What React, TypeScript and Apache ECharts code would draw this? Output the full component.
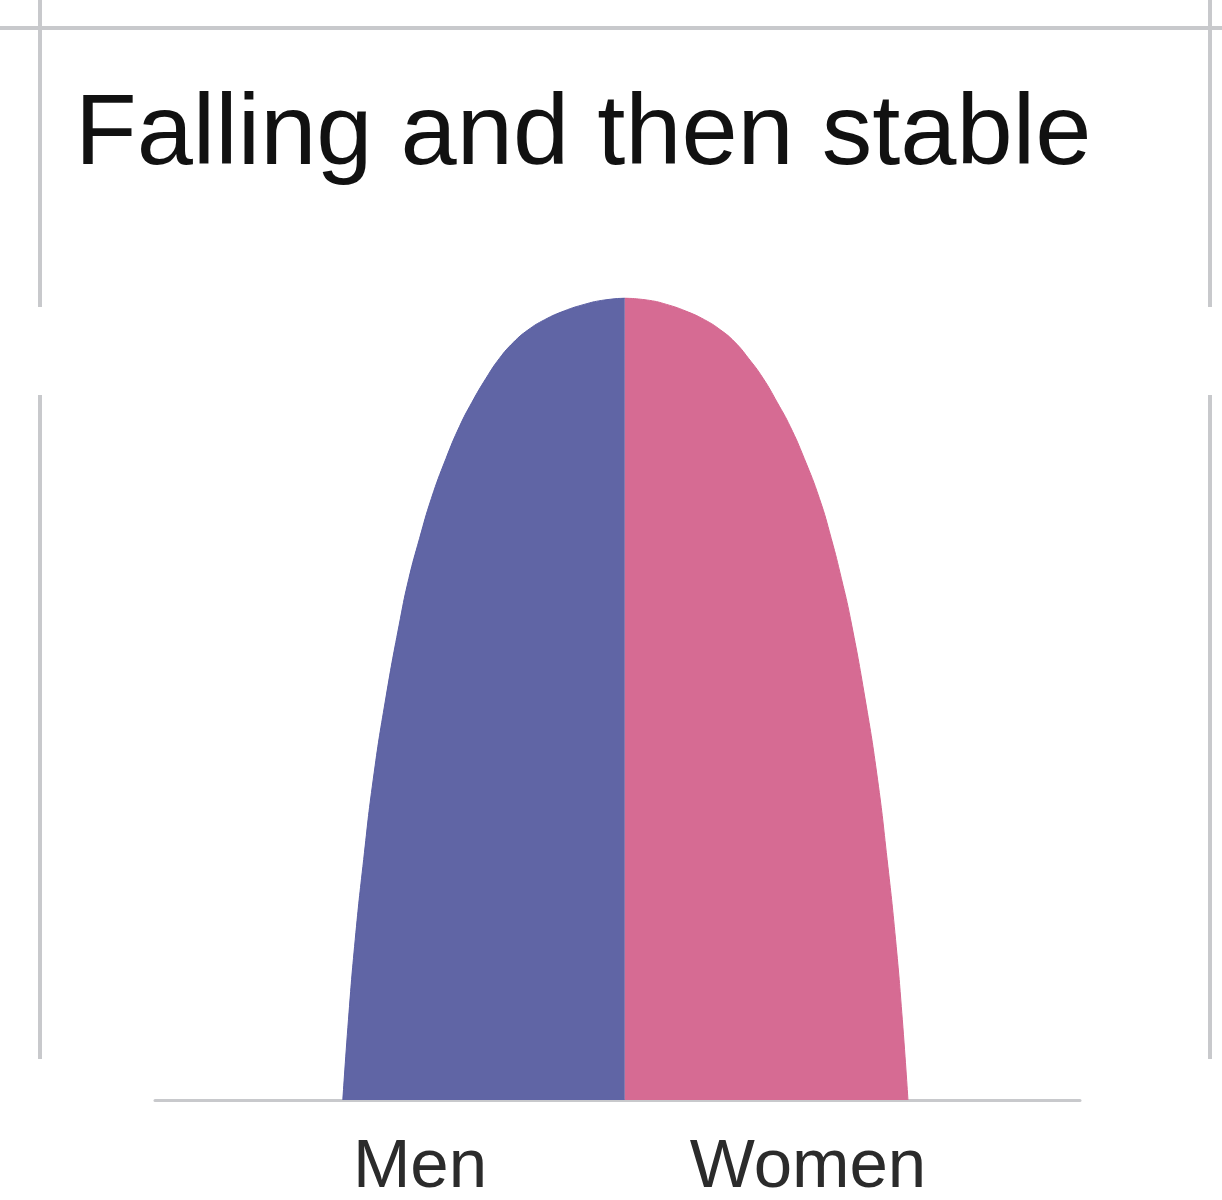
import React, { useEffect, useRef } from "react";
import * as echarts from "echarts";

// Age (years, bottom → top of the pyramid)
const ages: number[] = [
  0, 10, 20, 30, 40, 50, 60, 65, 70, 75, 80,
  84, 87, 90, 92.5, 94.5, 96, 97.3, 98.4, 99.2, 99.7, 100,
];

// Share of population (%), men drawn to the left
const menShare: number[] = [
  5.0, 4.9, 4.78, 4.63, 4.46, 4.24, 3.98, 3.83, 3.64, 3.43, 3.17,
  2.93, 2.71, 2.46, 2.22, 1.97, 1.72, 1.42, 1.07, 0.72, 0.41, 0,
];

const womenShare: number[] = [
  5.02, 4.92, 4.8, 4.65, 4.48, 4.26, 4.0, 3.84, 3.66, 3.45, 3.18,
  2.93, 2.7, 2.45, 2.19, 1.95, 1.7, 1.41, 1.07, 0.74, 0.44, 0,
];

const titleText = "Falling and then stable";
const sexLabels: string[] = ["Men", "Women"];

const FONT = "'Liberation Sans', Arial, Helvetica, sans-serif";
const FRAME = "#c8c9cc";

export default function App() {
  const ref = useRef<HTMLDivElement>(null);

  useEffect(() => {
    document.body.style.margin = "0";
    if (!ref.current) return;
    const chart = echarts.init(ref.current, undefined, { renderer: "svg" });

    const option: any = {
      animation: false,
      backgroundColor: "#ffffff",
      grid: { left: 155, right: 142, top: 298, bottom: 100 },
      xAxis: {
        type: "value",
        min: -8.33,
        max: 8.07,
        axisLabel: { show: false },
        axisTick: { show: false },
        splitLine: { show: false },
        axisLine: { show: true, lineStyle: { color: FRAME, width: 3 } },
      },
      // continuous age axis (uneven sampling), used as the base axis so areas fill toward x = 0
      yAxis: {
        type: "time",
        min: 0,
        max: 100,
        show: false,
      },
      series: [
        {
          name: sexLabels[0],
          type: "line",
          data: ages.map((a, i) => [-menShare[i], a]),
          smooth: 0.5,
          symbol: "none",
          lineStyle: { color: "#5a5fa3", width: 1 },
          areaStyle: { color: "#6065a5", opacity: 1 },
          z: 2,
        },
        {
          name: sexLabels[1],
          type: "line",
          data: ages.map((a, i) => [womenShare[i], a]),
          smooth: 0.5,
          symbol: "none",
          lineStyle: { color: "#d4668f", width: 1 },
          areaStyle: { color: "#d66b93", opacity: 1 },
          z: 2,
        },
      ],
      graphic: [
        { type: "line", shape: { x1: 0, y1: 28, x2: 1222, y2: 28 }, style: { stroke: FRAME, lineWidth: 4 }, silent: true },
        { type: "line", shape: { x1: 40, y1: 0, x2: 40, y2: 307 }, style: { stroke: FRAME, lineWidth: 4 }, silent: true },
        { type: "line", shape: { x1: 40, y1: 395, x2: 40, y2: 1059 }, style: { stroke: FRAME, lineWidth: 4 }, silent: true },
        { type: "line", shape: { x1: 1210, y1: 0, x2: 1210, y2: 307 }, style: { stroke: FRAME, lineWidth: 4 }, silent: true },
        { type: "line", shape: { x1: 1210, y1: 395, x2: 1210, y2: 1059 }, style: { stroke: FRAME, lineWidth: 4 }, silent: true },
        {
          type: "text",
          left: 75,
          top: 78,
          style: {
            text: titleText,
            font: `101px ${FONT}`,
            fill: "#111111",
          },
        },
        {
          type: "text",
          x: 420,
          y: 1163,
          style: {
            text: sexLabels[0],
            font: `69px ${FONT}`,
            fill: "#2b2b2b",
            align: "center",
            verticalAlign: "middle",
          },
        },
        {
          type: "text",
          x: 808,
          y: 1163,
          style: {
            text: sexLabels[1],
            font: `69px ${FONT}`,
            fill: "#2b2b2b",
            align: "center",
            verticalAlign: "middle",
          },
        },
      ],
    };

    chart.setOption(option);
    return () => chart.dispose();
  }, []);

  return <div ref={ref} style={{ width: 1222, height: 1200 }} />;
}
